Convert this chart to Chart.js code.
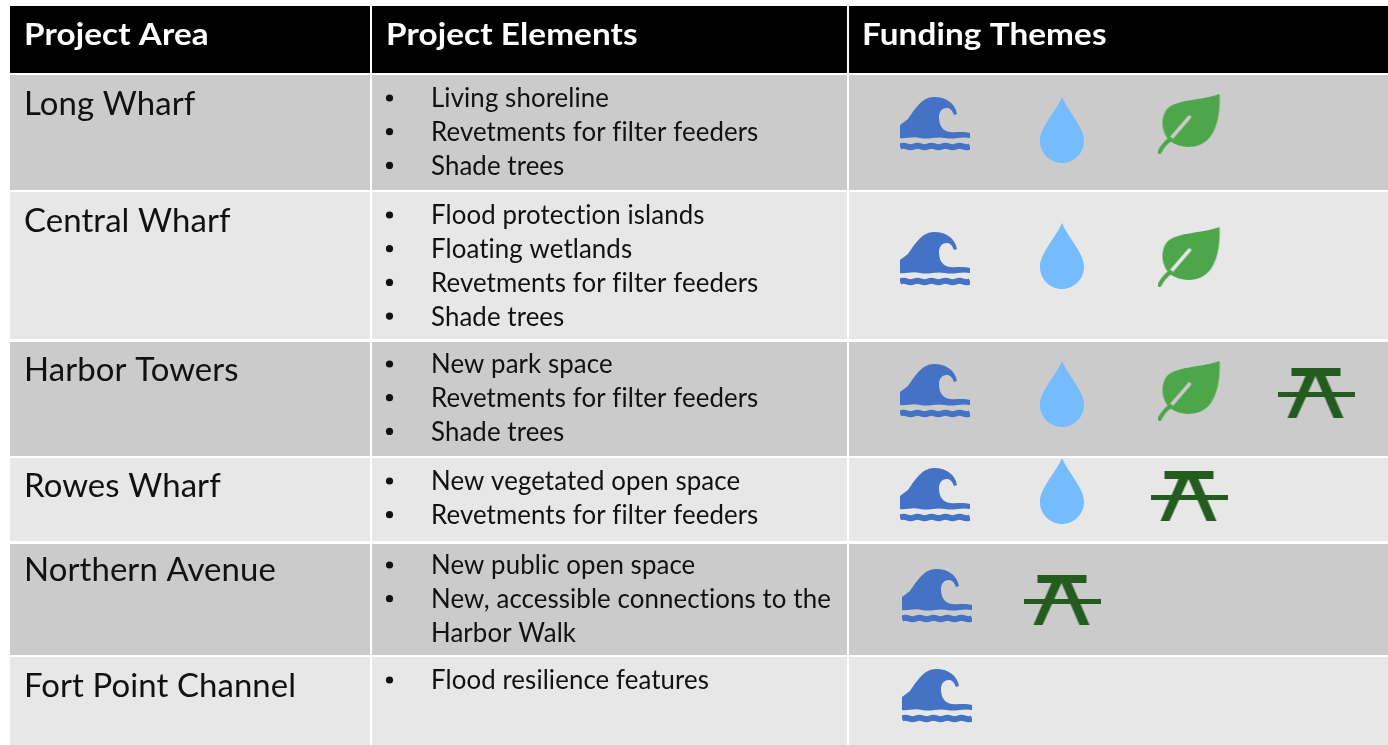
<!DOCTYPE html>
<html>
<head>
<meta charset="utf-8">
<title>Project areas</title>
<script src="https://cdn.jsdelivr.net/npm/chart.js@4"></script>
<style>
    html, body { margin: 0; padding: 0; background: #fff; overflow: hidden; }
    canvas { display: block; }
</style>
</head>
<body>
<canvas id="table-chart" width="1388" height="745"></canvas>
<script>
// table content
var headers = ["Project Area", "Project Elements", "Funding Themes"];
var projectAreas = ["Long Wharf", "Central Wharf", "Harbor Towers", "Rowes Wharf", "Northern Avenue", "Fort Point Channel"];
var projectElements = [
    ["Living shoreline", "Revetments for filter feeders", "Shade trees"],
    ["Flood protection islands", "Floating wetlands", "Revetments for filter feeders", "Shade trees"],
    ["New park space", "Revetments for filter feeders", "Shade trees"],
    ["New vegetated open space", "Revetments for filter feeders"],
    ["New public open space", "New, accessible connections to the\nHarbor Walk"],
    ["Flood resilience features"]
];
var fundingThemes = [
    ["wave", "drop", "leaf"],
    ["wave", "drop", "leaf"],
    ["wave", "drop", "leaf", "bench"],
    ["wave", "drop", "bench"],
    ["wave", "bench"],
    ["wave"]
];

// layout, in scale units (the scales run 1:1 with the picture)
var columnEdges = [[10, 370], [372, 847], [849, 1388]];
var rowEdges = [[6, 73], [75, 190], [192, 339], [342, 456], [458, 541], [544, 655], [657, 745]];
var rowFill = ["#000000", "#cbcbcb", "#e7e7e7", "#cbcbcb", "#e7e7e7", "#cbcbcb", "#e7e7e7"];
var headerX = [24, 386, 862];
var areaBaseline = [115, 232, 381, 497, 581, 697];
var firstLineCenter = [98, 215, 364, 481, 565, 680];
var linePitch = 33.7;
var themeSlots = [935, 1062, 1189, 1316];
var waveShift = [0, 0, 0, 0, 2, 2];
var iconCenter = {
    wave: [124, 259, 391, 495, 596, 696],
    drop: [130, 256, 394, 491, null, null],
    leaf: [124, 257, 391, null, null, null],
    bench: [null, null, 393, 496, 600, null]
};
var themeColors = { wave: "#4472c4", drop: "#75bcff", leaf: "#4ea64a", bench: "#245c20" };

function makeIcon(w, h, paint) {
    var c = document.createElement("canvas");
    c.width = w;
    c.height = h;
    paint(c.getContext("2d"));
    return c;
}

function wavyBand(g, y) {
    g.beginPath();
    g.moveTo(0, y);
    for (var i = 0; i < 5; i++) {
        g.quadraticCurveTo(i * 14 + 3.5, y - 1.4, i * 14 + 7, y);
        g.quadraticCurveTo(i * 14 + 10.5, y + 1.4, i * 14 + 14, y);
    }
    g.lineWidth = 6;
    g.strokeStyle = themeColors.wave;
    g.stroke();
}

var icons = {
    wave: makeIcon(70, 54, function (g) {
        g.fillStyle = themeColors.wave;
        g.beginPath();
        g.moveTo(0, 28);
        g.lineTo(8, 22);
        g.bezierCurveTo(15, 12, 22, 0, 34, 0);
        g.bezierCurveTo(46, 0, 55, 6, 57, 17);
        g.lineTo(54, 18);
        g.bezierCurveTo(52, 13, 50, 11, 47, 11);
        g.bezierCurveTo(41, 11, 39, 16, 39, 20);
        g.bezierCurveTo(39, 29, 43, 34, 50, 35);
        g.bezierCurveTo(56, 36, 62, 34, 70, 36);
        g.lineTo(70, 41);
        g.bezierCurveTo(60, 39, 55, 43, 45, 41);
        g.bezierCurveTo(35, 39, 30, 43, 20, 41);
        g.bezierCurveTo(12, 39, 6, 42, 0, 41);
        g.closePath();
        g.fill();
        wavyBand(g, 49.5);
    }),
    drop: makeIcon(44, 66, function (g) {
        g.fillStyle = themeColors.drop;
        g.beginPath();
        g.moveTo(22, 0);
        g.bezierCurveTo(29, 16, 44, 30, 44, 44);
        g.bezierCurveTo(44, 56, 34, 66, 22, 66);
        g.bezierCurveTo(10, 66, 0, 56, 0, 44);
        g.bezierCurveTo(0, 30, 15, 16, 22, 0);
        g.closePath();
        g.fill();
    }),
    leaf: makeIcon(63, 60, function (g) {
        g.fillStyle = themeColors.leaf;
        g.beginPath();
        g.moveTo(62, 0);
        g.bezierCurveTo(63, 18, 60, 36, 50, 46);
        g.bezierCurveTo(40, 55, 24, 55, 12, 47);
        g.bezierCurveTo(4, 38, 3, 26, 8, 17);
        g.bezierCurveTo(16, 5, 42, 7, 62, 0);
        g.closePath();
        g.fill();
        g.lineCap = "round";
        g.globalCompositeOperation = "destination-out";
        g.lineWidth = 3.5;
        g.beginPath();
        g.moveTo(13, 45);
        g.lineTo(32, 23);
        g.stroke();
        g.globalCompositeOperation = "source-over";
        g.strokeStyle = themeColors.leaf;
        g.lineWidth = 4;
        g.beginPath();
        g.moveTo(2, 58);
        g.quadraticCurveTo(6, 50, 13, 45);
        g.stroke();
    }),
    bench: makeIcon(77, 50, function (g) {
        g.fillStyle = themeColors.bench;
        g.fillRect(14, 0, 49, 8);
        g.fillRect(0, 24, 77, 5);
        g.beginPath();
        g.moveTo(28, 8);
        g.lineTo(38, 8);
        g.lineTo(19, 50);
        g.lineTo(10, 50);
        g.closePath();
        g.moveTo(38, 8);
        g.lineTo(48, 8);
        g.lineTo(66, 50);
        g.lineTo(56, 50);
        g.closePath();
        g.fill();
    })
};

// one scatter dataset per theme, points come from the fundingThemes table
function themePoints(theme) {
    var pts = [];
    for (var r = 0; r < fundingThemes.length; r++) {
        var slot = fundingThemes[r].indexOf(theme);
        if (slot >= 0) {
            pts.push({ x: themeSlots[slot] + (theme === "wave" ? waveShift[r] : 0), y: iconCenter[theme][r] });
        }
    }
    return pts;
}

var themeNames = ["wave", "drop", "leaf", "bench"];
var datasets = themeNames.map(function (name) {
    return { label: name, data: themePoints(name), pointStyle: icons[name], showLine: false };
});

// source text is a little wider than Lato, so stretch it
function stretchedText(ctx, text, x, y, xScale) {
    ctx.save();
    ctx.translate(x, y);
    ctx.scale(xScale, 1);
    ctx.fillText(text, 0, 0);
    ctx.restore();
}

var tablePlugin = {
    id: "tableCells",
    beforeDatasetsDraw: function (chart) {
        var ctx = chart.ctx;
        var sx = chart.scales.x;
        var sy = chart.scales.y;
        var px = function (v) { return sx.getPixelForValue(v); };
        var py = function (v) { return sy.getPixelForValue(v); };

        ctx.save();
        // cells
        for (var r = 0; r < rowEdges.length; r++) {
            ctx.fillStyle = rowFill[r];
            for (var c = 0; c < columnEdges.length; c++) {
                ctx.fillRect(px(columnEdges[c][0]), py(rowEdges[r][0]),
                    px(columnEdges[c][1]) - px(columnEdges[c][0]), py(rowEdges[r][1]) - py(rowEdges[r][0]));
            }
        }

        // header row
        ctx.fillStyle = "#ffffff";
        ctx.textBaseline = "alphabetic";
        ctx.letterSpacing = "0.1px";
        ctx.font = "bold 31px Lato";
        for (var h = 0; h < headers.length; h++) {
            stretchedText(ctx, headers[h], px(headerX[h]), py(45), 1.072);
        }

        // first column
        ctx.fillStyle = "#111111";
        ctx.font = "32px Lato";
        for (var a = 0; a < projectAreas.length; a++) {
            stretchedText(ctx, projectAreas[a], px(24), py(areaBaseline[a]), 1.028);
        }

        // bullet lists
        ctx.font = "26px Lato";
        for (var i = 0; i < projectElements.length; i++) {
            var line = 0;
            for (var e = 0; e < projectElements[i].length; e++) {
                var parts = projectElements[i][e].split("\n");
                var cy = py(firstLineCenter[i] + line * linePitch);
                ctx.beginPath();
                ctx.arc(px(389.5), cy, 3.6, 0, Math.PI * 2);
                ctx.fill();
                for (var p = 0; p < parts.length; p++) {
                    stretchedText(ctx, parts[p], px(431), py(firstLineCenter[i] + line * linePitch + 9.4), 0.993);
                    line++;
                }
            }
        }
        ctx.restore();
    }
};

new Chart(document.getElementById("table-chart").getContext("2d"), {
    type: "scatter",
    data: { datasets: datasets },
    plugins: [tablePlugin],
    options: {
        responsive: false,
        animation: false,
        layout: { padding: 0, autoPadding: false },
        plugins: { legend: { display: false }, tooltip: { enabled: false } },
        scales: {
            x: { type: "linear", min: 0, max: 1388, display: false },
            y: { type: "linear", min: 0, max: 745, reverse: true, display: false }
        }
    }
});
</script>
</body>
</html>
